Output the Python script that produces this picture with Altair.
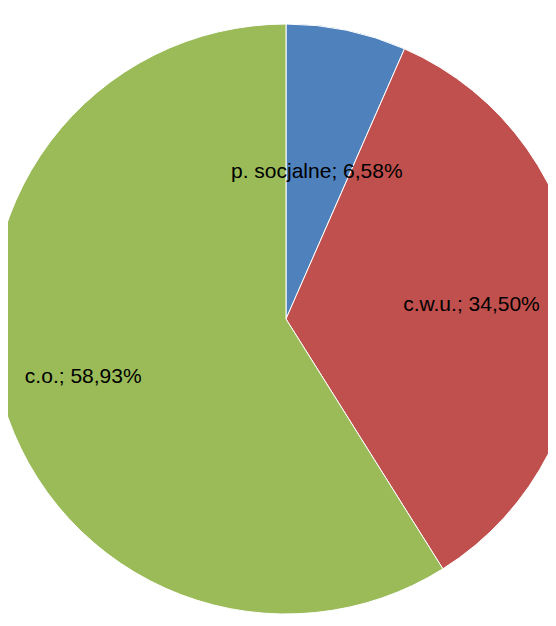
import altair as alt
import pandas as pd

categories = ["p. socjalne", "c.w.u.", "c.o."]
values = [6.58, 34.50, 58.93]
labels = ["p. socjalne; 6,58%", "c.w.u.; 34,50%", "c.o.; 58,93%"]
colors = ["#4F81BD", "#C0504D", "#9BBB59"]
order = [0, 1, 2]

df = pd.DataFrame({"cat": categories, "val": values, "label": labels, "ord": order})

CX, CY = 278, 311
R = 295

base = alt.Chart(df).encode(
    theta=alt.Theta("val:Q", stack=True),
    order=alt.Order("ord:Q"),
)

pie = base.mark_arc(radius=R, stroke="white", strokeWidth=1).encode(
    color=alt.Color("cat:N", scale=alt.Scale(domain=categories, range=colors), legend=None),
    x=alt.value(CX), y=alt.value(CY),
)

label_radius = {"p. socjalne": 150, "c.w.u.": 186, "c.o.": 211}
texts = []
for c in categories:
    t = base.mark_text(
        radius=label_radius[c], font="Liberation Sans", fontSize=21,
        color="black", align="center", baseline="middle",
    ).encode(
        text="label:N", x=alt.value(CX), y=alt.value(CY),
        opacity=alt.condition(alt.datum.cat == c, alt.value(1), alt.value(0)),
    )
    texts.append(t)

chart = alt.layer(pie, *texts).properties(
    width=540, height=610, padding=0,
    autosize=alt.AutoSizeParams(type="none"),
).configure_view(stroke=None)

chart.save("out.html", embed_options={"renderer": "svg", "actions": False})
